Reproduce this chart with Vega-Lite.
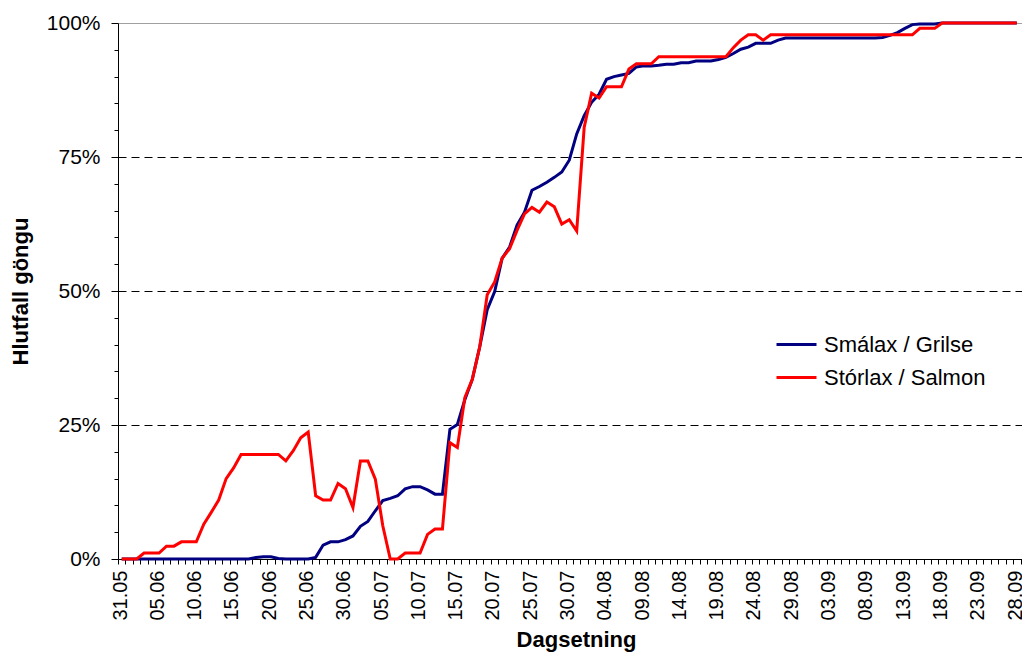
{
 "$schema": "https://vega.github.io/schema/vega-lite/v6.json",
 "width": 904,
 "height": 536,
 "autosize": {"type": "none"},
 "padding": {"left": 118, "top": 23, "right": 0, "bottom": 93},
 "background": "white",
 "config": {"view": {"stroke": null}, "font": "Liberation Sans"},
 "data": {"values": [
  {"day":0,"Smálax / Grilse":0,"Stórlax / Salmon":0},
  {"day":1,"Smálax / Grilse":0,"Stórlax / Salmon":0},
  {"day":2,"Smálax / Grilse":0,"Stórlax / Salmon":0},
  {"day":3,"Smálax / Grilse":0,"Stórlax / Salmon":1.1},
  {"day":4,"Smálax / Grilse":0,"Stórlax / Salmon":1.1},
  {"day":5,"Smálax / Grilse":0,"Stórlax / Salmon":1.1},
  {"day":6,"Smálax / Grilse":0,"Stórlax / Salmon":2.4},
  {"day":7,"Smálax / Grilse":0,"Stórlax / Salmon":2.4},
  {"day":8,"Smálax / Grilse":0,"Stórlax / Salmon":3.2},
  {"day":9,"Smálax / Grilse":0,"Stórlax / Salmon":3.2},
  {"day":10,"Smálax / Grilse":0,"Stórlax / Salmon":3.2},
  {"day":11,"Smálax / Grilse":0,"Stórlax / Salmon":6.5},
  {"day":12,"Smálax / Grilse":0,"Stórlax / Salmon":8.7},
  {"day":13,"Smálax / Grilse":0,"Stórlax / Salmon":11},
  {"day":14,"Smálax / Grilse":0,"Stórlax / Salmon":15},
  {"day":15,"Smálax / Grilse":0,"Stórlax / Salmon":17},
  {"day":16,"Smálax / Grilse":0,"Stórlax / Salmon":19.5},
  {"day":17,"Smálax / Grilse":0,"Stórlax / Salmon":19.5},
  {"day":18,"Smálax / Grilse":0.3,"Stórlax / Salmon":19.5},
  {"day":19,"Smálax / Grilse":0.4,"Stórlax / Salmon":19.5},
  {"day":20,"Smálax / Grilse":0.4,"Stórlax / Salmon":19.5},
  {"day":21,"Smálax / Grilse":0.1,"Stórlax / Salmon":19.5},
  {"day":22,"Smálax / Grilse":0,"Stórlax / Salmon":18.3},
  {"day":23,"Smálax / Grilse":0,"Stórlax / Salmon":20.2},
  {"day":24,"Smálax / Grilse":0,"Stórlax / Salmon":22.6},
  {"day":25,"Smálax / Grilse":0,"Stórlax / Salmon":23.7},
  {"day":26,"Smálax / Grilse":0.3,"Stórlax / Salmon":11.8},
  {"day":27,"Smálax / Grilse":2.6,"Stórlax / Salmon":11},
  {"day":28,"Smálax / Grilse":3.2,"Stórlax / Salmon":11},
  {"day":29,"Smálax / Grilse":3.2,"Stórlax / Salmon":14.1},
  {"day":30,"Smálax / Grilse":3.6,"Stórlax / Salmon":13.1},
  {"day":31,"Smálax / Grilse":4.3,"Stórlax / Salmon":9.6},
  {"day":32,"Smálax / Grilse":6.1,"Stórlax / Salmon":18.3},
  {"day":33,"Smálax / Grilse":7.0,"Stórlax / Salmon":18.3},
  {"day":34,"Smálax / Grilse":9.0,"Stórlax / Salmon":14.9},
  {"day":35,"Smálax / Grilse":10.9,"Stórlax / Salmon":6.2},
  {"day":36,"Smálax / Grilse":11.3,"Stórlax / Salmon":0},
  {"day":37,"Smálax / Grilse":11.8,"Stórlax / Salmon":0},
  {"day":38,"Smálax / Grilse":13.1,"Stórlax / Salmon":1.1},
  {"day":39,"Smálax / Grilse":13.5,"Stórlax / Salmon":1.1},
  {"day":40,"Smálax / Grilse":13.5,"Stórlax / Salmon":1.1},
  {"day":41,"Smálax / Grilse":12.9,"Stórlax / Salmon":4.6},
  {"day":42,"Smálax / Grilse":12.1,"Stórlax / Salmon":5.6},
  {"day":43,"Smálax / Grilse":12.1,"Stórlax / Salmon":5.6},
  {"day":44,"Smálax / Grilse":24.2,"Stórlax / Salmon":21.7},
  {"day":45,"Smálax / Grilse":25.1,"Stórlax / Salmon":20.8},
  {"day":46,"Smálax / Grilse":29.7,"Stórlax / Salmon":30.1},
  {"day":47,"Smálax / Grilse":33.5,"Stórlax / Salmon":33.5},
  {"day":48,"Smálax / Grilse":39.6,"Stórlax / Salmon":39.6},
  {"day":49,"Smálax / Grilse":46.5,"Stórlax / Salmon":49.3},
  {"day":50,"Smálax / Grilse":49.9,"Stórlax / Salmon":51.7},
  {"day":51,"Smálax / Grilse":56.1,"Stórlax / Salmon":56.1},
  {"day":52,"Smálax / Grilse":58.2,"Stórlax / Salmon":57.9},
  {"day":53,"Smálax / Grilse":62.3,"Stórlax / Salmon":61.3},
  {"day":54,"Smálax / Grilse":64.7,"Stórlax / Salmon":64.4},
  {"day":55,"Smálax / Grilse":68.8,"Stórlax / Salmon":65.6},
  {"day":56,"Smálax / Grilse":69.5,"Stórlax / Salmon":64.7},
  {"day":57,"Smálax / Grilse":70.3,"Stórlax / Salmon":66.6},
  {"day":58,"Smálax / Grilse":71.2,"Stórlax / Salmon":65.7},
  {"day":59,"Smálax / Grilse":72.2,"Stórlax / Salmon":62.5},
  {"day":60,"Smálax / Grilse":74.4,"Stórlax / Salmon":63.3},
  {"day":61,"Smálax / Grilse":79.3,"Stórlax / Salmon":61.2},
  {"day":62,"Smálax / Grilse":82.7,"Stórlax / Salmon":80.5},
  {"day":63,"Smálax / Grilse":85.2,"Stórlax / Salmon":86.9},
  {"day":64,"Smálax / Grilse":86.7,"Stórlax / Salmon":86.0},
  {"day":65,"Smálax / Grilse":89.5,"Stórlax / Salmon":88.1},
  {"day":66,"Smálax / Grilse":90.0,"Stórlax / Salmon":88.1},
  {"day":67,"Smálax / Grilse":90.3,"Stórlax / Salmon":88.1},
  {"day":68,"Smálax / Grilse":90.6,"Stórlax / Salmon":91.4},
  {"day":69,"Smálax / Grilse":91.8,"Stórlax / Salmon":92.4},
  {"day":70,"Smálax / Grilse":92.0,"Stórlax / Salmon":92.4},
  {"day":71,"Smálax / Grilse":92.0,"Stórlax / Salmon":92.4},
  {"day":72,"Smálax / Grilse":92.1,"Stórlax / Salmon":93.7},
  {"day":73,"Smálax / Grilse":92.3,"Stórlax / Salmon":93.7},
  {"day":74,"Smálax / Grilse":92.3,"Stórlax / Salmon":93.7},
  {"day":75,"Smálax / Grilse":92.6,"Stórlax / Salmon":93.7},
  {"day":76,"Smálax / Grilse":92.6,"Stórlax / Salmon":93.7},
  {"day":77,"Smálax / Grilse":92.9,"Stórlax / Salmon":93.7},
  {"day":78,"Smálax / Grilse":92.9,"Stórlax / Salmon":93.7},
  {"day":79,"Smálax / Grilse":92.9,"Stórlax / Salmon":93.7},
  {"day":80,"Smálax / Grilse":93.2,"Stórlax / Salmon":93.7},
  {"day":81,"Smálax / Grilse":93.6,"Stórlax / Salmon":93.7},
  {"day":82,"Smálax / Grilse":94.3,"Stórlax / Salmon":95.4},
  {"day":83,"Smálax / Grilse":95.1,"Stórlax / Salmon":96.8},
  {"day":84,"Smálax / Grilse":95.5,"Stórlax / Salmon":97.8},
  {"day":85,"Smálax / Grilse":96.2,"Stórlax / Salmon":97.8},
  {"day":86,"Smálax / Grilse":96.2,"Stórlax / Salmon":96.8},
  {"day":87,"Smálax / Grilse":96.2,"Stórlax / Salmon":97.8},
  {"day":88,"Smálax / Grilse":96.8,"Stórlax / Salmon":97.8},
  {"day":89,"Smálax / Grilse":97.2,"Stórlax / Salmon":97.8},
  {"day":90,"Smálax / Grilse":97.2,"Stórlax / Salmon":97.8},
  {"day":91,"Smálax / Grilse":97.2,"Stórlax / Salmon":97.8},
  {"day":92,"Smálax / Grilse":97.2,"Stórlax / Salmon":97.8},
  {"day":93,"Smálax / Grilse":97.2,"Stórlax / Salmon":97.8},
  {"day":94,"Smálax / Grilse":97.2,"Stórlax / Salmon":97.8},
  {"day":95,"Smálax / Grilse":97.2,"Stórlax / Salmon":97.8},
  {"day":96,"Smálax / Grilse":97.2,"Stórlax / Salmon":97.8},
  {"day":97,"Smálax / Grilse":97.2,"Stórlax / Salmon":97.8},
  {"day":98,"Smálax / Grilse":97.2,"Stórlax / Salmon":97.8},
  {"day":99,"Smálax / Grilse":97.2,"Stórlax / Salmon":97.8},
  {"day":100,"Smálax / Grilse":97.2,"Stórlax / Salmon":97.8},
  {"day":101,"Smálax / Grilse":97.2,"Stórlax / Salmon":97.8},
  {"day":102,"Smálax / Grilse":97.3,"Stórlax / Salmon":97.8},
  {"day":103,"Smálax / Grilse":97.7,"Stórlax / Salmon":97.8},
  {"day":104,"Smálax / Grilse":98.2,"Stórlax / Salmon":97.8},
  {"day":105,"Smálax / Grilse":99.0,"Stórlax / Salmon":97.8},
  {"day":106,"Smálax / Grilse":99.7,"Stórlax / Salmon":97.8},
  {"day":107,"Smálax / Grilse":99.8,"Stórlax / Salmon":99},
  {"day":108,"Smálax / Grilse":99.8,"Stórlax / Salmon":99},
  {"day":109,"Smálax / Grilse":99.8,"Stórlax / Salmon":99},
  {"day":110,"Smálax / Grilse":100,"Stórlax / Salmon":100},
  {"day":111,"Smálax / Grilse":100,"Stórlax / Salmon":100},
  {"day":112,"Smálax / Grilse":100,"Stórlax / Salmon":100},
  {"day":113,"Smálax / Grilse":100,"Stórlax / Salmon":100},
  {"day":114,"Smálax / Grilse":100,"Stórlax / Salmon":100},
  {"day":115,"Smálax / Grilse":100,"Stórlax / Salmon":100},
  {"day":116,"Smálax / Grilse":100,"Stórlax / Salmon":100},
  {"day":117,"Smálax / Grilse":100,"Stórlax / Salmon":100},
  {"day":118,"Smálax / Grilse":100,"Stórlax / Salmon":100},
  {"day":119,"Smálax / Grilse":100,"Stórlax / Salmon":100},
  {"day":120,"Smálax / Grilse":100,"Stórlax / Salmon":100}
 ]},
 "transform": [{"fold": ["Smálax / Grilse", "Stórlax / Salmon"], "as": ["series", "share"]}],
 "mark": {"type": "line", "strokeWidth": 3, "clip": false},
 "encoding": {
  "x": {
   "field": "day", "type": "quantitative",
   "scale": {"domain": [-0.5, 120.7], "nice": false, "zero": false},
   "axis": {
    "values": [-0.5,0.5,1.5,2.5,3.5,4.5,5.5,6.5,7.5,8.5,9.5,10.5,11.5,12.5,13.5,14.5,15.5,16.5,17.5,18.5,19.5,20.5,21.5,22.5,23.5,24.5,25.5,26.5,27.5,28.5,29.5,30.5,31.5,32.5,33.5,34.5,35.5,36.5,37.5,38.5,39.5,40.5,41.5,42.5,43.5,44.5,45.5,46.5,47.5,48.5,49.5,50.5,51.5,52.5,53.5,54.5,55.5,56.5,57.5,58.5,59.5,60.5,61.5,62.5,63.5,64.5,65.5,66.5,67.5,68.5,69.5,70.5,71.5,72.5,73.5,74.5,75.5,76.5,77.5,78.5,79.5,80.5,81.5,82.5,83.5,84.5,85.5,86.5,87.5,88.5,89.5,90.5,91.5,92.5,93.5,94.5,95.5,96.5,97.5,98.5,99.5,100.5,101.5,102.5,103.5,104.5,105.5,106.5,107.5,108.5,109.5,110.5,111.5,112.5,113.5,114.5,115.5,116.5,117.5,118.5,119.5,120.5],
    "labelExpr": "(datum.value + 0.5) % 5 == 0 ? timeFormat(datetime(2010, 4, 31 + datum.value + 0.5), '%d.%m') : ''",
    "labelAngle": 270,
    "labelFontSize": 20,
    "labelColor": "black",
    "labelPadding": 6,
    "labelOffset": 2,
    "labelOverlap": false,
    "labelFlush": false,
    "labelBound": false,
    "tickColor": "black",
    "tickSize": 5,
    "domainColor": "black",
    "grid": false,
    "title": "Dagsetning",
    "titleFontSize": 22,
    "titleFontWeight": "bold",
    "titleColor": "black",
    "titlePadding": 9,
    "titleX": 458
   }
  },
  "y": {
   "field": "share", "type": "quantitative",
   "scale": {"domain": [0, 100], "nice": false},
   "axis": {
    "values": [0,5,10,15,20,25,30,35,40,45,50,55,60,65,70,75,80,85,90,95,100],
    "labelExpr": "datum.value % 25 == 0 ? datum.value + '%' : ''",
    "labelFontSize": 21,
    "labelColor": "black",
    "labelPadding": 11,
    "labelOverlap": false,
    "labelFlush": false,
    "labelBound": false,
    "tickColor": "black",
    "tickSize": {"condition": {"test": "datum.value % 25 == 0", "value": 7}, "value": 4},
    "domainColor": "black",
    "grid": true,
    "gridColor": {"condition": {"test": "datum.value == 100", "value": "#a0a0a0"}, "value": "black"},
    "gridOpacity": {"condition": {"test": "datum.value % 25 == 0 && datum.value > 0", "value": 1}, "value": 0},
    "gridDash": {"condition": {"test": "datum.value == 100", "value": []}, "value": [8, 5]},
    "gridWidth": 1,
    "title": "Hlutfall göngu",
    "titleFontSize": 22,
    "titleFontWeight": "bold",
    "titleColor": "black",
    "titlePadding": 14
   }
  },
  "color": {
   "field": "series", "type": "nominal",
   "scale": {"domain": ["Smálax / Grilse", "Stórlax / Salmon"], "range": ["#000080", "#ff0000"]},
   "legend": {
    "orient": "none", "legendX": 657, "legendY": 300,
    "title": null,
    "symbolType": "stroke",
    "symbolSize": 1600,
    "symbolStrokeWidth": 3,
    "labelFontSize": 22,
    "labelColor": "black",
    "labelOffset": 6,
    "labelLimit": 400,
    "rowPadding": -2,
    "padding": 0
   }
  }
 }
}
